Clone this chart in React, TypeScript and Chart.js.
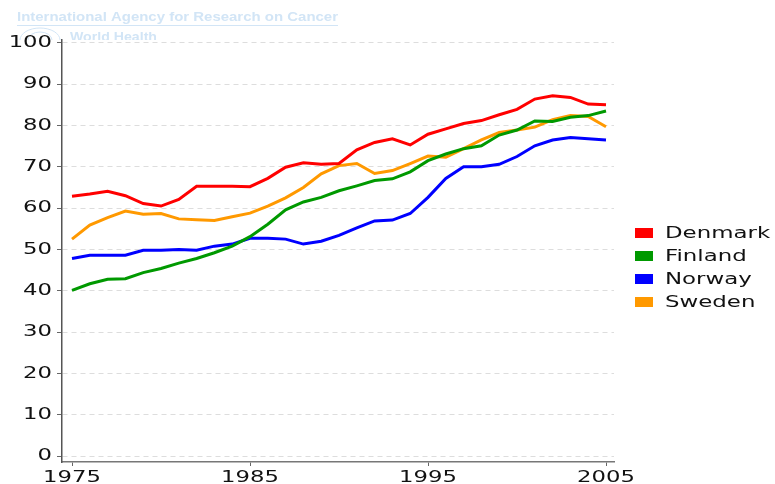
import React, { useEffect, useRef } from "react";
import { Chart, registerables } from "chart.js";

Chart.register(...registerables);

const years = [
  1975, 1976, 1977, 1978, 1979, 1980, 1981, 1982, 1983, 1984, 1985, 1986, 1987, 1988, 1989, 1990,
  1991, 1992, 1993, 1994, 1995, 1996, 1997, 1998, 1999, 2000, 2001, 2002, 2003, 2004, 2005,
];
const denmark = [
  62.9, 63.4, 64.1, 63.0, 61.1, 60.5, 62.1, 65.3, 65.3, 65.3, 65.2, 67.2, 69.9, 71.0, 70.6, 70.8,
  74.1, 75.9, 76.8, 75.3, 77.9, 79.2, 80.5, 81.2, 82.6, 83.9, 86.4, 87.2, 86.8, 85.2, 85.0,
];
const finland = [
  40.1, 41.7, 42.8, 42.9, 44.4, 45.4, 46.7, 47.8, 49.2, 50.8, 53.1, 56.1, 59.6, 61.5, 62.6, 64.2,
  65.4, 66.7, 67.1, 68.8, 71.5, 73.1, 74.4, 75.1, 77.7, 78.9, 81.1, 81.0, 82.0, 82.4, 83.5,
];
const norway = [
  47.8, 48.6, 48.6, 48.6, 49.8, 49.8, 50.0, 49.8, 50.8, 51.3, 52.7, 52.7, 52.5, 51.3, 52.0, 53.4,
  55.2, 56.9, 57.1, 58.7, 62.6, 67.2, 70.0, 70.0, 70.6, 72.5, 75.1, 76.5, 77.1, 76.8, 76.5,
];
const sweden = [
  52.5, 55.9, 57.7, 59.3, 58.5, 58.7, 57.4, 57.2, 57.0, 57.9, 58.8, 60.5, 62.5, 65.0, 68.3, 70.3,
  70.8, 68.4, 69.1, 70.8, 72.6, 72.3, 74.4, 76.5, 78.3, 78.9, 79.6, 81.4, 82.4, 82.2, 79.7,
];
const seriesNames = ["Denmark", "Finland", "Norway", "Sweden"];
const seriesColors = ["#ff0000", "#009900", "#0000ff", "#ff9900"];
const yTicks = [0, 10, 20, 30, 40, 50, 60, 70, 80, 90, 100];
const xTicks = [1975, 1985, 1995, 2005];
const watermarkTitle = "International Agency for Research on Cancer";
const watermarkSub = "World Health";

const STRETCH = 1.42;

export default function App() {
  const ref = useRef<HTMLCanvasElement>(null);

  useEffect(() => {
    const canvas = ref.current;
    if (!canvas) return;
    const values = [denmark, finland, norway, sweden];
    let origFill: any = null;

    const decor = {
      id: "decor",
      beforeDraw(chart: any) {
        const c = chart.ctx;
        c.save();
        c.fillStyle = "#d2e5f6";
        c.strokeStyle = "#d2e5f6";
        c.font = "bold 13.5px 'Liberation Sans'";
        c.textBaseline = "alphabetic";
        const w = c.measureText(watermarkTitle).width;
        c.save();
        c.translate(17, 21);
        c.scale(321 / w, 1);
        c.fillText(watermarkTitle, 0, 0);
        c.restore();
        c.lineWidth = 1;
        c.beginPath();
        c.moveTo(17, 25.5);
        c.lineTo(338, 25.5);
        c.stroke();
        c.beginPath();
        c.rect(0, 26, 400, 14);
        c.clip();
        c.font = "bold 12.5px 'Liberation Sans'";
        const w2 = c.measureText(watermarkSub).width;
        c.save();
        c.translate(70, 41);
        c.scale(87 / w2, 1);
        c.fillText(watermarkSub, 0, 0);
        c.restore();
        c.beginPath();
        c.ellipse(40, 40, 20, 12, 0, 0, Math.PI * 2);
        c.stroke();
        c.beginPath();
        c.ellipse(40, 40, 12, 8, 0, 0, Math.PI * 2);
        c.stroke();
        c.restore();
      },
      afterDatasetsDraw(chart: any) {
        const c = chart.ctx;
        origFill = c.fillText;
        c.fillText = function (text: string, x: number, y: number) {
          this.save();
          this.translate(x, y);
          this.scale(STRETCH, 1);
          origFill.call(this, text, 0, 0);
          this.restore();
        };
      },
      afterDraw(chart: any) {
        const c = chart.ctx;
        if (origFill) {
          delete c.fillText;
          if (c.fillText !== origFill) c.fillText = origFill;
          origFill = null;
        }
        c.save();
        chart.data.datasets.forEach((ds: any, i: number) => {
          const cy = 233 + i * 23;
          c.fillStyle = ds.borderColor;
          c.fillRect(635, cy - 5, 18, 10);
          c.save();
          c.translate(665, cy + 1);
          c.scale(1.43, 1);
          c.fillStyle = "#111";
          c.font = "16px 'DejaVu Sans'";
          c.textBaseline = "middle";
          c.textAlign = "left";
          c.fillText(ds.label, 0, 0);
          c.restore();
        });
        c.restore();
      },
    };

    const chart = new Chart(canvas, {
      type: "line",
      data: {
        labels: years,
        datasets: seriesNames.map((name, i) => ({
          label: name,
          data: years.map((y, j) => ({ x: y, y: values[i][j] })),
          borderColor: seriesColors[i],
          backgroundColor: seriesColors[i],
          borderWidth: 3,
          pointRadius: 0,
          tension: 0,
          fill: false,
        })),
      },
      options: {
        animation: false,
        responsive: false,
        maintainAspectRatio: false,
        layout: { padding: { top: 40, right: 161, left: 0, bottom: 0 } },
        plugins: {
          legend: { display: false },
          tooltip: { enabled: false },
          title: { display: false },
        },
        scales: {
          x: {
            type: "linear",
            min: 1974.438,
            max: 2005.449,
            afterBuildTicks: (scale: any) => {
              scale.ticks = xTicks.map((v) => ({ value: v }));
            },
            afterFit: (scale: any) => {
              scale.height = 22;
            },
            grid: {
              drawOnChartArea: false,
              drawTicks: true,
              tickLength: 4,
              tickColor: "#666",
            },
            border: { color: "#777", width: 1.5 },
            ticks: {
              z: 1,
              autoSkip: false,
              maxRotation: 0,
              padding: 2,
              color: "#111",
              font: { family: "'DejaVu Sans'", size: 16 },
              callback: (v: any) => String(v),
            },
          },
          y: {
            type: "linear",
            min: -1.45,
            max: 100.7,
            afterBuildTicks: (scale: any) => {
              scale.ticks = yTicks.map((v) => ({ value: v }));
            },
            afterFit: (scale: any) => {
              scale.width = 62;
            },
            grid: {
              color: "#dddddd",
              lineWidth: 1,
              drawTicks: true,
              tickLength: 5,
              tickColor: "#666",
            },
            border: { color: "#555", width: 1.5, dash: [5, 4] },
            ticks: {
              z: 1,
              padding: 5,
              color: "#111",
              font: { family: "'DejaVu Sans'", size: 16 },
              callback: (v: any) => String(v),
            },
          },
        },
      },
      plugins: [decor],
    } as any);

    return () => chart.destroy();
  }, []);

  return (
    <div style={{ position: "absolute", left: 0, top: 0, width: 775, height: 484, background: "#fff" }}>
      <canvas ref={ref} width={775} height={484} style={{ display: "block" }} />
    </div>
  );
}
